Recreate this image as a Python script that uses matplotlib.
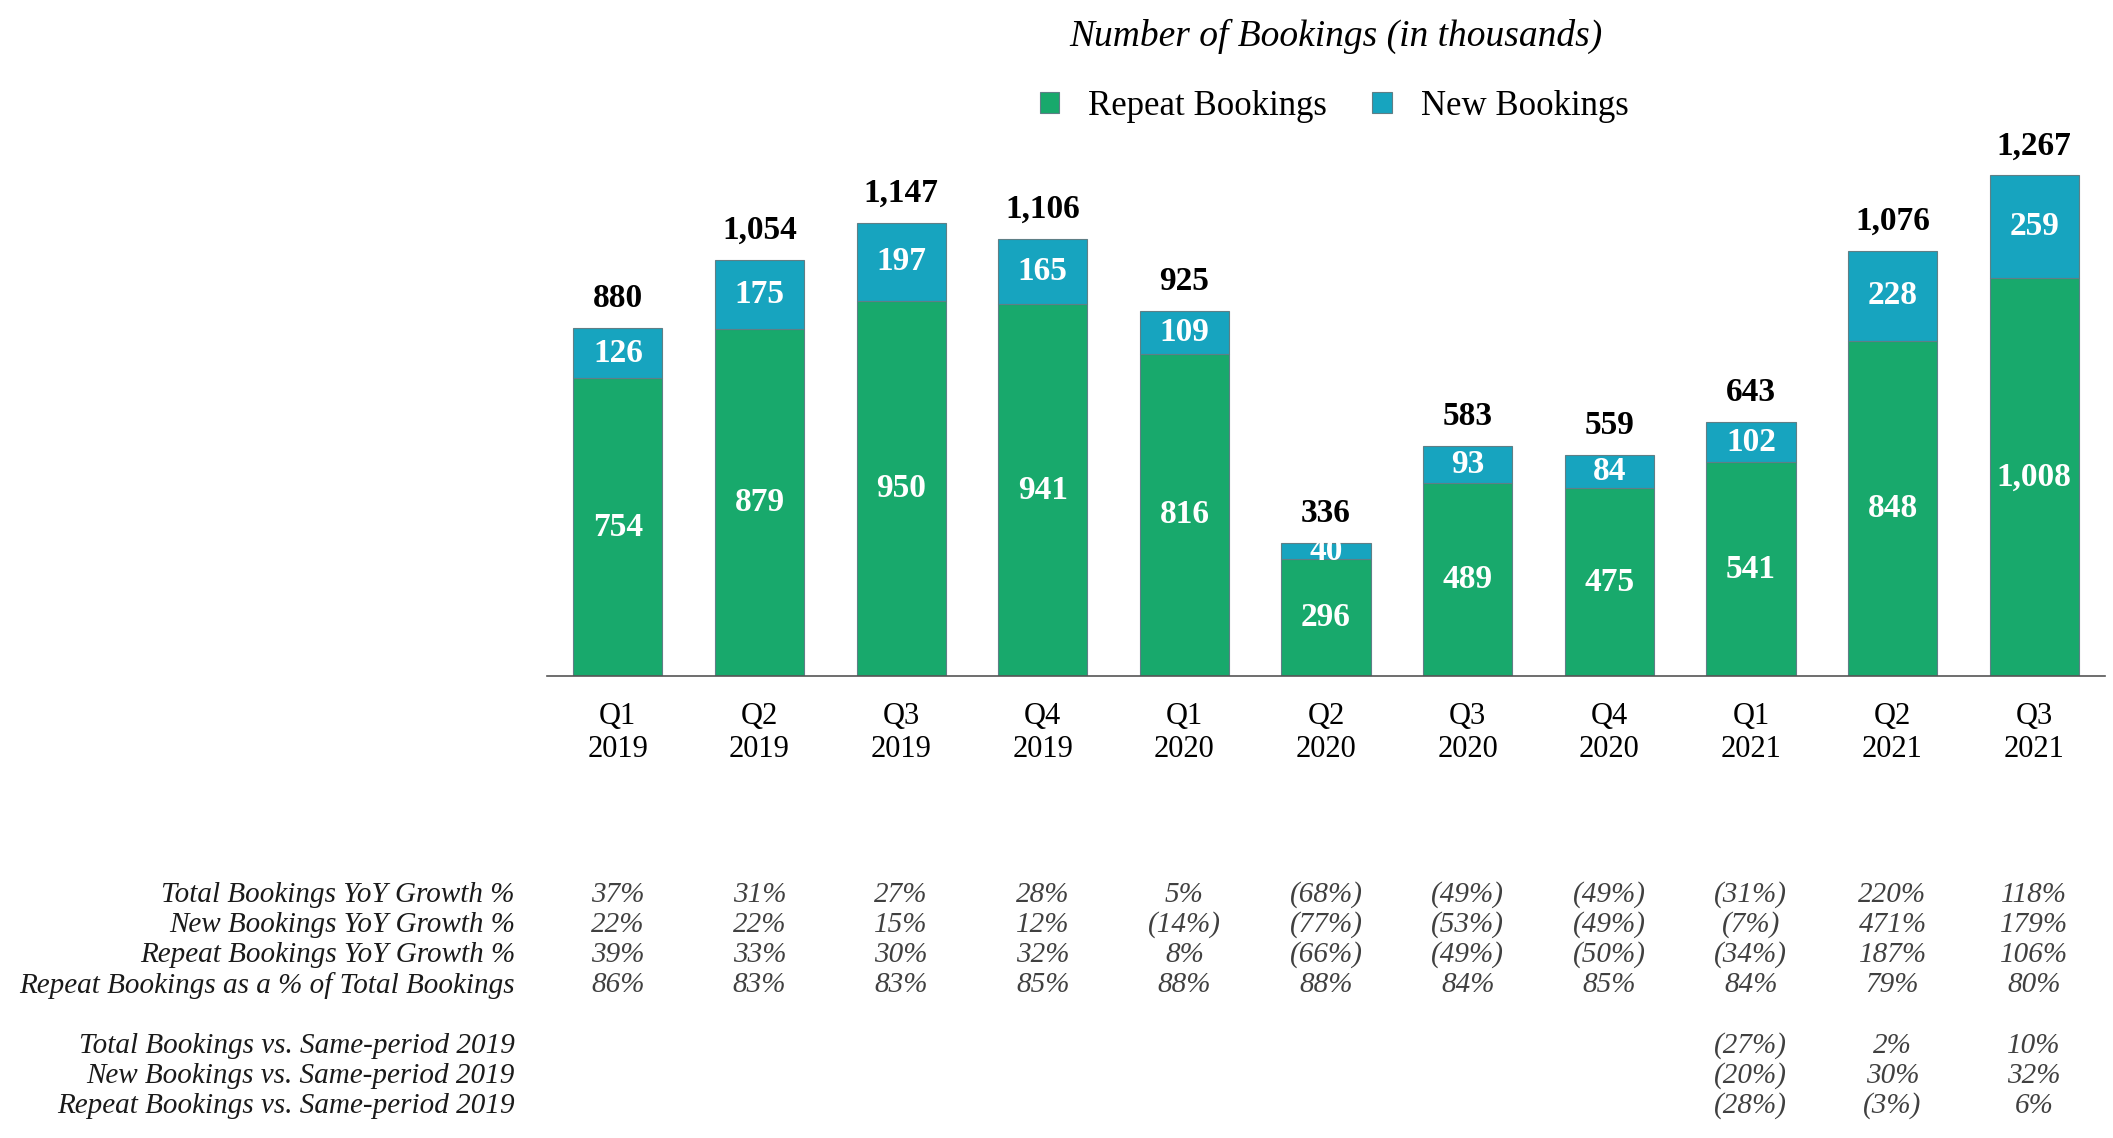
import matplotlib.pyplot as plt
import matplotlib.transforms as mtransforms
from matplotlib.patches import Patch
import numpy as np

plt.rcParams['font.family'] = ['Liberation Serif', 'DejaVu Serif']

# data (thousands of bookings)
quarters = ['Q1\n2019', 'Q2\n2019', 'Q3\n2019', 'Q4\n2019', 'Q1\n2020', 'Q2\n2020',
            'Q3\n2020', 'Q4\n2020', 'Q1\n2021', 'Q2\n2021', 'Q3\n2021']
repeatBookings = [754, 879, 950, 941, 816, 296, 489, 475, 541, 848, 1008]
newBookings = [126, 175, 197, 165, 109, 40, 93, 84, 102, 228, 259]
totalBookings = [880, 1054, 1147, 1106, 925, 336, 583, 559, 643, 1076, 1267]

growthLabels = ['Total Bookings YoY Growth %', 'New Bookings YoY Growth %',
                'Repeat Bookings YoY Growth %', 'Repeat Bookings as a % of Total Bookings']
totalYoy = ['37%', '31%', '27%', '28%', '5%', '(68%)', '(49%)', '(49%)', '(31%)', '220%', '118%']
newYoy = ['22%', '22%', '15%', '12%', '(14%)', '(77%)', '(53%)', '(49%)', '(7%)', '471%', '179%']
repeatYoy = ['39%', '33%', '30%', '32%', '8%', '(66%)', '(49%)', '(50%)', '(34%)', '187%', '106%']
repeatShare = ['86%', '83%', '83%', '85%', '88%', '88%', '84%', '85%', '84%', '79%', '80%']

vs2019Labels = ['Total Bookings vs. Same-period 2019', 'New Bookings vs. Same-period 2019',
                'Repeat Bookings vs. Same-period 2019']
vs2019Quarters = [8, 9, 10]
totalVs2019 = ['(27%)', '2%', '10%']
newVs2019 = ['(20%)', '30%', '32%']
repeatVs2019 = ['(28%)', '(3%)', '6%']

greenColor = '#18A96C'
blueColor = '#17A4BF'
edgeColor = '#5F7F86'

fig = plt.figure(figsize=(21.13, 11.38), dpi=100)
ax = fig.add_axes([0.2589, 0.406, 0.7373, 0.486])

x = np.arange(len(quarters))
barWidth = 0.63
ax.bar(x, repeatBookings, barWidth, color=greenColor, edgecolor=edgeColor, linewidth=0.8)
ax.bar(x, newBookings, barWidth, bottom=repeatBookings, color=blueColor,
       edgecolor=edgeColor, linewidth=0.8)

for i in range(len(quarters)):
    ax.text(x[i], repeatBookings[i] / 2, f'{repeatBookings[i]:,}', ha='center', va='center',
            color='white', fontsize=24, fontweight='bold')
    ax.text(x[i], repeatBookings[i] + newBookings[i] / 2, f'{newBookings[i]:,}', ha='center',
            va='center', color='white', fontsize=24, fontweight='bold')
    ax.annotate(f'{totalBookings[i]:,}', (x[i], repeatBookings[i] + newBookings[i]),
                xytext=(0, 15), textcoords='offset points', ha='center', va='baseline',
                fontsize=24, fontweight='bold', color='black', annotation_clip=False)

ax.set_xlim(-0.5, 10.5)
ax.set_ylim(0, 1400)
ax.set_xticks(x)
ax.set_xticklabels(quarters, fontsize=22, linespacing=1.15)
ax.tick_params(axis='x', length=0, pad=19)
ax.set_yticks([])
for side in ['top', 'right', 'left']:
    ax.spines[side].set_visible(False)
ax.spines['bottom'].set_color('#555555')
ax.spines['bottom'].set_linewidth(1.2)

fig.text(0.632, 0.968, 'Number of Bookings (in thousands)', ha='center', va='center',
         fontsize=27, style='italic')
handles = [Patch(facecolor=greenColor, edgecolor=edgeColor, linewidth=0.8),
           Patch(facecolor=blueColor, edgecolor=edgeColor, linewidth=0.8)]
fig.legend(handles, ['Repeat Bookings', 'New Bookings'], loc='center',
           bbox_to_anchor=(0.6315, 0.9065), ncol=2, frameon=False, fontsize=25,
           handlelength=0.55, handleheight=0.55, handletextpad=0.85, columnspacing=1.3)

# table of growth rates under the chart
blend = mtransforms.blended_transform_factory(ax.transData, fig.transFigure)
growthRows = [totalYoy, newYoy, repeatYoy, repeatShare]
rowTop = 0.2138
rowStep = 0.0265
for r, (label, row) in enumerate(zip(growthLabels, growthRows)):
    yPos = rowTop - r * rowStep
    fig.text(0.2437, yPos, label, ha='right', va='center', fontsize=21, style='italic',
             color='#1a1a1a')
    for i, val in enumerate(row):
        ax.text(x[i], yPos, val, transform=blend, ha='center', va='center', fontsize=21,
                style='italic', color='#404040')

vsRows = [totalVs2019, newVs2019, repeatVs2019]
vsTop = 0.0812
for r, (label, row) in enumerate(zip(vs2019Labels, vsRows)):
    yPos = vsTop - r * rowStep
    fig.text(0.2437, yPos, label, ha='right', va='center', fontsize=21, style='italic',
             color='#1a1a1a')
    for q, val in zip(vs2019Quarters, row):
        ax.text(x[q], yPos, val, transform=blend, ha='center', va='center', fontsize=21,
                style='italic', color='#404040')

fig.savefig('out.png', dpi=100)
